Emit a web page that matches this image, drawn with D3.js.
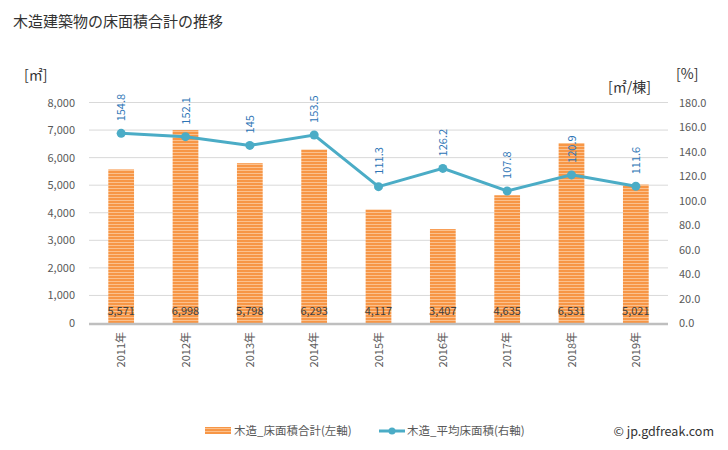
<!DOCTYPE html>
<html><head><meta charset="utf-8">
<script src="https://cdn.jsdelivr.net/npm/d3@7"></script>
<style>
body{margin:0;background:#fff;}
text{font-family:"Noto Sans CJK JP","Noto Sans",sans-serif;}
</style></head>
<body><svg id="c" width="728" height="450"></svg>
<script>
const years = ["2011年","2012年","2013年","2014年","2015年","2016年","2017年","2018年","2019年"];
const areaTotal = [5571,6998,5798,6293,4117,3407,4635,6531,5021];
const areaAvg = [154.8,152.1,145,153.5,111.3,126.2,107.8,120.9,111.6];
const avgLabels = ["154.8","152.1","145","153.5","111.3","126.2","107.8","120.9","111.6"];
const leftTicks = [0,1000,2000,3000,4000,5000,6000,7000,8000];
const rightTicks = [0,20,40,60,80,100,120,140,160,180];

const svg = d3.select("#c");
const L=89, R=668, T=102.5, B=323;
const x = d3.scaleBand().domain(years).range([L,R]).paddingInner(0.6).paddingOuter(0.3);
const xc = d => x(d)+x.bandwidth()/2;
const yL = d3.scaleLinear().domain([0,8000]).range([B,T]);
const yR = d3.scaleLinear().domain([0,180]).range([B,T]);

const defs = svg.append("defs");
const pat = defs.append("pattern").attr("id","stripe").attr("patternUnits","userSpaceOnUse").attr("width",6).attr("height",3);
pat.append("rect").attr("width",6).attr("height",3).attr("fill","#fbc18e");
pat.append("rect").attr("width",6).attr("height",2).attr("fill","#f79646");

svg.append("text").attr("x",13).attr("y",27).attr("font-size",15).attr("fill","#333").text("木造建築物の床面積合計の推移");
svg.append("text").attr("x",24).attr("y",80).attr("font-size",14).attr("fill","#333").text("[㎡]");
svg.append("text").attr("x",676).attr("y",79).attr("font-size",14).attr("fill","#333").text("[%]");
svg.append("text").attr("x",608).attr("y",92).attr("font-size",14).attr("fill","#333").text("[㎡/棟]");

// gridlines
svg.append("g").selectAll("line").data(leftTicks.slice(1)).join("line")
  .attr("x1",L).attr("x2",R).attr("y1",d=>yL(d)).attr("y2",d=>yL(d))
  .attr("stroke","#d9d9d9").attr("stroke-width",1);

// left axis
const ax = d3.axisLeft(yL).tickValues(leftTicks).tickSize(0).tickPadding(14).tickFormat(d3.format(","));
const gL = svg.append("g").attr("transform",`translate(${L},0)`).call(ax);
gL.select(".domain").remove();
gL.selectAll("text").attr("font-size",11).attr("fill","#595959");

const axR = d3.axisRight(yR).tickValues(rightTicks).tickSize(0).tickPadding(11).tickFormat(d3.format(".1f"));
const gR = svg.append("g").attr("transform",`translate(${R},0)`).call(axR);
gR.select(".domain").remove();
gR.selectAll("text").attr("font-size",11).attr("fill","#595959");

// bars
svg.append("g").selectAll("rect").data(areaTotal).join("rect")
  .attr("x",(d,i)=>x(years[i])).attr("width",x.bandwidth())
  .attr("y",d=>yL(d)).attr("height",d=>B-yL(d)).attr("fill","url(#stripe)");

// baseline
svg.append("line").attr("x1",L).attr("x2",R).attr("y1",B+1).attr("y2",B+1).attr("stroke","#bfbfbf").attr("stroke-width",2.5);

// bar labels
svg.append("g").selectAll("text").data(areaTotal).join("text")
  .attr("x",(d,i)=>xc(years[i])).attr("y",315).attr("text-anchor","middle")
  .attr("font-size",11).attr("fill","#404040").text(d=>d3.format(",")(d));

// x labels
svg.append("g").selectAll("text").data(years).join("text")
  .attr("transform",d=>`translate(${xc(d)+4},332) rotate(-90)`).attr("text-anchor","end")
  .attr("font-size",11).attr("fill","#595959").text(d=>d);

// line
const line = d3.line().x((d,i)=>xc(years[i])).y(d=>yR(d));
svg.append("path").datum(areaAvg).attr("d",line).attr("fill","none").attr("stroke","#4bacc6").attr("stroke-width",3);
svg.append("g").selectAll("circle").data(areaAvg).join("circle")
  .attr("cx",(d,i)=>xc(years[i])).attr("cy",d=>yR(d)).attr("r",4.5).attr("fill","#4bacc6");
svg.append("g").selectAll("text").data(areaAvg).join("text")
  .attr("transform",(d,i)=>`translate(${xc(years[i])+4},${yR(d)-12}) rotate(-90)`)
  .attr("text-anchor","start").attr("font-size",11).attr("fill","#2e75b6").text((d,i)=>avgLabels[i]);

// legend
svg.append("rect").attr("x",205).attr("y",427).attr("width",26).attr("height",7).attr("fill","url(#stripe)");
svg.append("text").attr("x",234).attr("y",435).attr("font-size",11.5).attr("fill","#595959").text("木造_床面積合計(左軸)");
svg.append("line").attr("x1",379).attr("x2",405).attr("y1",431).attr("y2",431).attr("stroke","#4bacc6").attr("stroke-width",3);
svg.append("circle").attr("cx",392).attr("cy",431).attr("r",3.5).attr("fill","#4bacc6");
svg.append("text").attr("x",407).attr("y",435).attr("font-size",11.5).attr("fill","#595959").text("木造_平均床面積(右軸)");
svg.append("text").attr("x",714).attr("y",436).attr("text-anchor","end").attr("font-size",12.5).attr("fill","#333").text("© jp.gdfreak.com");
</script></body></html>
